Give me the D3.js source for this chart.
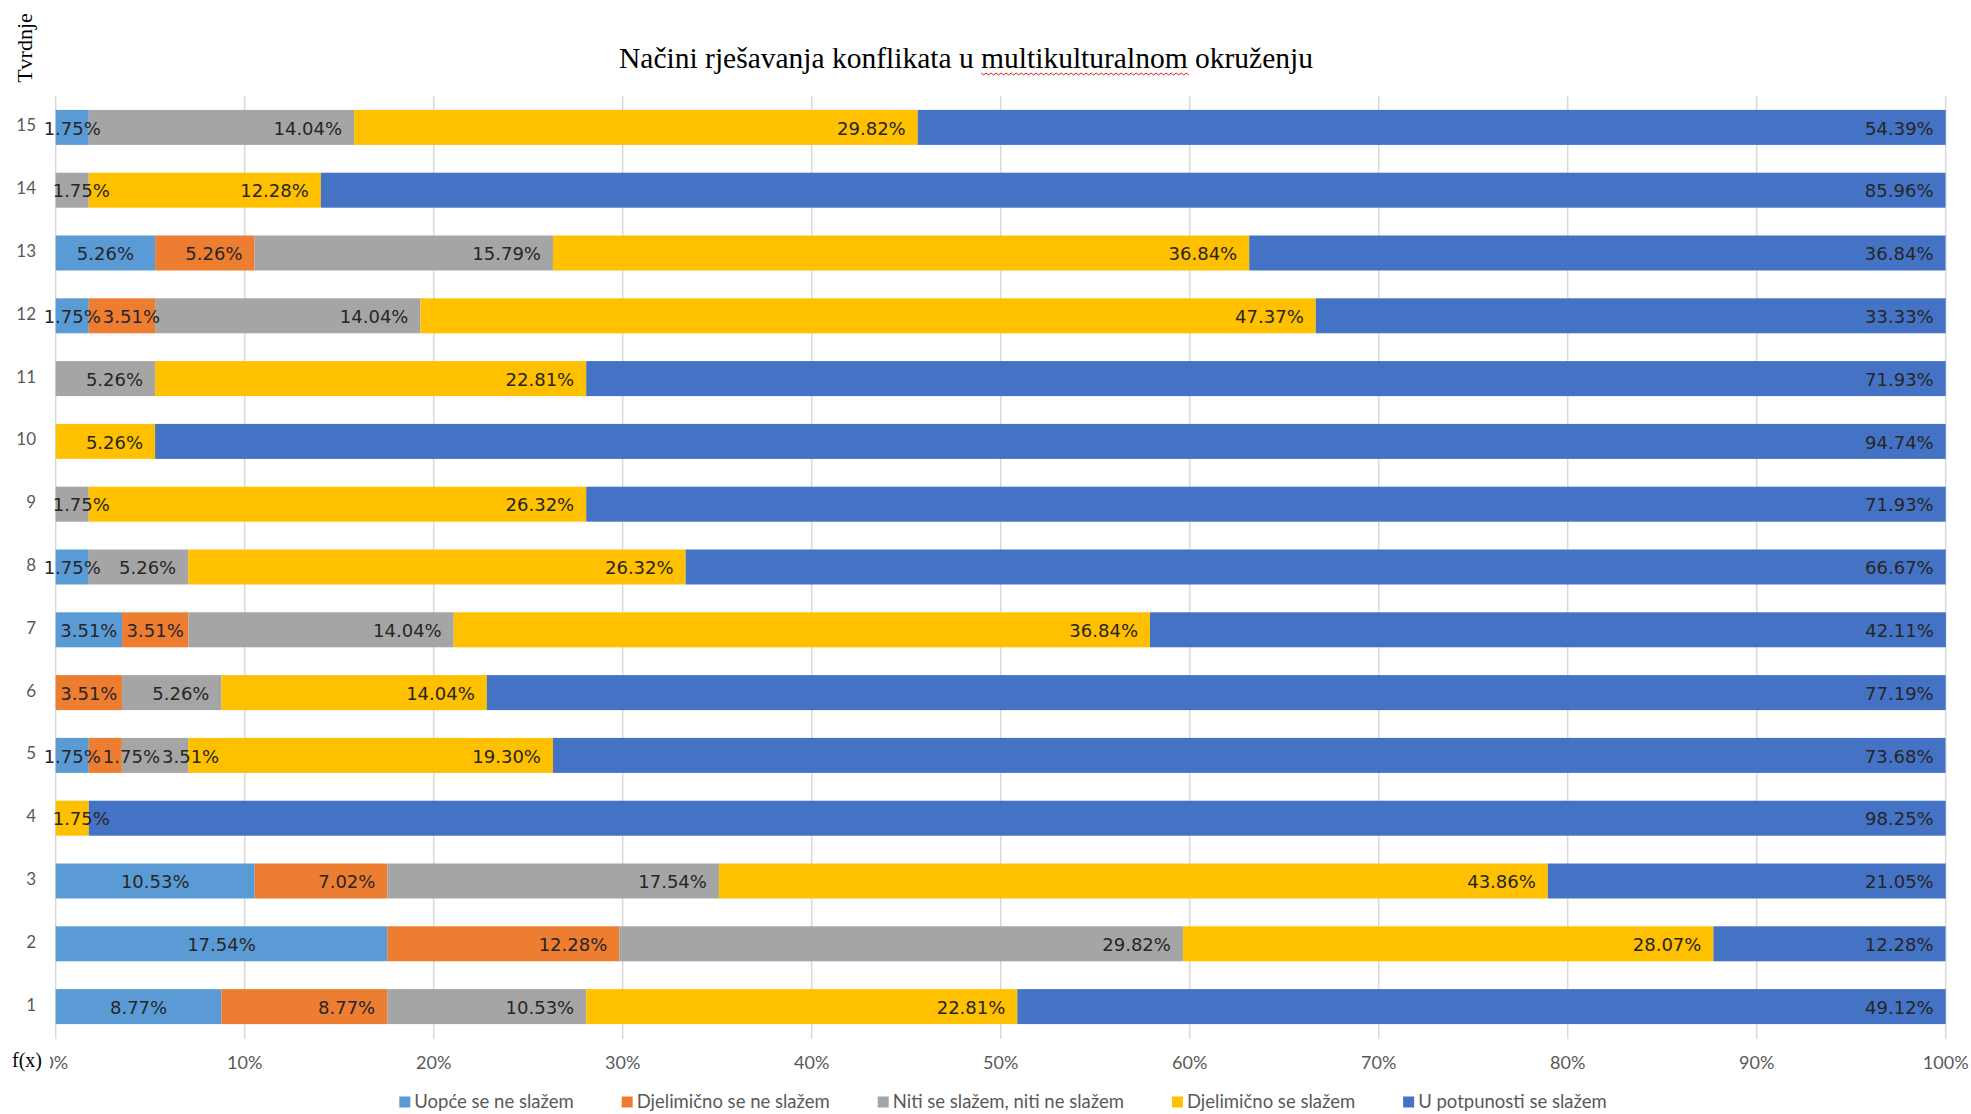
<!DOCTYPE html>
<html>
<head>
<meta charset="utf-8">
<script src="https://cdn.jsdelivr.net/npm/d3@7"></script>
<style>
  body { margin: 0; background: #fff; }
  svg { display: block; }
</style>
</head>
<body>
<script>
// statements, bottom row first
let tvrdnje = [1, 2, 3, 4, 5, 6, 7, 8, 9, 10, 11, 12, 13, 14, 15]

let serije = ["Uopće se ne slažem", "Djelimično se ne slažem", "Niti se slažem, niti ne slažem", "Djelimično se slažem", "U potpunosti se slažem"]
let boje = ["#5B9BD5", "#ED7D31", "#A5A5A5", "#FFC000", "#4472C4"]

let uopce       = [8.77, 17.54, 10.53, 0, 1.75, 0, 3.51, 1.75, 0, 0, 0, 1.75, 5.26, 0, 1.75]
let djelNeSlaze = [8.77, 12.28, 7.02, 0, 1.75, 3.51, 3.51, 0, 0, 0, 0, 3.51, 5.26, 0, 0]
let niti        = [10.53, 29.82, 17.54, 0, 3.51, 5.26, 14.04, 5.26, 1.75, 0, 5.26, 14.04, 15.79, 1.75, 14.04]
let djelSlaze   = [22.81, 28.07, 43.86, 1.75, 19.30, 14.04, 36.84, 26.32, 26.32, 5.26, 22.81, 47.37, 36.84, 12.28, 29.82]
let potpuno     = [49.12, 12.28, 21.05, 98.25, 73.68, 77.19, 42.11, 66.67, 71.93, 94.74, 71.93, 33.33, 36.84, 85.96, 54.39]

let xTicks = [0, 10, 20, 30, 40, 50, 60, 70, 80, 90, 100]

let w = 1971
let h = 1114

let svg = d3.select("body")
    .append("svg")
    .attr("width", w)
    .attr("height", h)

let vrijednosti = [uopce, djelNeSlaze, niti, djelSlaze, potpuno]

let rows = tvrdnje.map((t, i) => {
    let r = { t: t }
    serije.forEach((s, j) => r[s] = vrijednosti[j][i])
    return r
})

let stack = d3.stack().keys(serije)(rows)

let x = d3.scaleLinear()
    .domain([0, 100])
    .range([55.7, 1945.7])

let y = d3.scaleBand()
    .domain(tvrdnje.slice().reverse())
    .range([96, 1038])
    .paddingInner(0.443)
    .paddingOuter(0.2215)

// grid
svg.append("g")
    .selectAll("line")
    .data(xTicks)
    .enter()
    .append("line")
    .attr("x1", d => x(d))
    .attr("x2", d => x(d))
    .attr("y1", 96)
    .attr("y2", 1039)
    .attr("stroke", "#d9d9d9")
    .attr("stroke-width", 1.5)

// bars
let layer = svg.append("g")
    .selectAll("g")
    .data(stack)
    .enter()
    .append("g")
    .attr("fill", (d, i) => boje[i])

layer.selectAll("rect")
    .data(d => d)
    .enter()
    .append("rect")
    .attr("x", d => x(d[0]))
    .attr("width", d => x(d[1]) - x(d[0]))
    .attr("y", d => y(d.data.t))
    .attr("height", y.bandwidth())

// data labels: first series centred, the rest at inside end
let labels = svg.append("g")
    .attr("font-family", "DejaVu Sans")
    .attr("font-size", 18)
    .attr("fill", "#262626")

let fmt = v => v.toFixed(2) + "%"

tvrdnje.forEach((t, i) => {
    let prevRight = -Infinity
    stack.forEach((s, j) => {
        let d = s[i]
        let v = d[1] - d[0]
        if (v <= 0.001) return
        let txt = labels.append("text")
            .attr("y", y(t) + y.bandwidth() / 2)
            .attr("dy", "0.4em")
            .text(fmt(vrijednosti[j][i]))
        let tw = txt.node().getComputedTextLength()
        let x0 = x(d[0]), x1 = x(d[1])
        let left
        if (j === 0 || tw + 24 > x1 - x0) {
            left = (x0 + x1) / 2 - tw / 2
        } else {
            left = x1 - 12 - tw
        }
        if (j > 0) left = Math.max(left, x(0) - 3)
        left = Math.max(left, prevRight + 2)
        txt.attr("x", left)
        prevRight = left + tw
    })
})

// y labels
svg.append("g")
    .attr("font-family", "Lato")
    .attr("font-size", 17)
    .attr("fill", "#595959")
    .attr("text-anchor", "end")
    .selectAll("text")
    .data(tvrdnje)
    .enter()
    .append("text")
    .attr("x", 36)
    .attr("y", d => y(d) + y.bandwidth() / 2 - 2)
    .attr("dy", "0.35em")
    .text(d => d)

// x tick labels
svg.append("g")
    .attr("font-family", "Lato")
    .attr("font-size", 18)
    .attr("fill", "#595959")
    .attr("text-anchor", "middle")
    .selectAll("text")
    .data(xTicks)
    .enter()
    .append("text")
    .attr("x", d => x(d))
    .attr("y", 1063)
    .attr("dy", "0.35em")
    .text(d => d + "%")

// f(x) covering the 0
svg.append("rect")
    .attr("x", 0)
    .attr("y", 1045)
    .attr("width", 50)
    .attr("height", 35)
    .attr("fill", "#fff")

svg.append("text")
    .attr("x", 12)
    .attr("y", 1067)
    .attr("font-family", "Liberation Serif")
    .attr("font-size", 20)
    .attr("fill", "#000")
    .text("f(x)")

// Tvrdnje
svg.append("text")
    .attr("transform", "translate(32,48) rotate(-90)")
    .attr("text-anchor", "middle")
    .attr("font-family", "Liberation Serif")
    .attr("font-size", 22)
    .attr("fill", "#000")
    .text("Tvrdnje")

// title
let titleY = 68
let title = svg.append("text")
    .attr("x", 966)
    .attr("y", titleY)
    .attr("text-anchor", "middle")
    .attr("font-family", "Liberation Serif")
    .attr("font-size", 29.5)
    .attr("fill", "#000")
    .text("Načini rješavanja konflikata u multikulturalnom okruženju")

// red spell-check squiggle under "multikulturalnom"
let word = "multikulturalnom"
let start = title.text().indexOf(word)
let tn = title.node()
let sx = tn.getStartPositionOfChar(start).x
let ex = tn.getEndPositionOfChar(start + word.length - 1).x
let wy = titleY + 5
let wave = d3.path()
wave.moveTo(sx, wy)
for (let px = sx, k = 0; px < ex; px += 2.5, k++) {
    wave.lineTo(px + 2.5, wy + (k % 2 === 0 ? 2 : 0))
}
svg.append("path")
    .attr("d", wave.toString())
    .attr("fill", "none")
    .attr("stroke", "#e02020")
    .attr("stroke-width", 1)

// legend
let legend = svg.append("g")
    .attr("font-family", "Lato")
    .attr("font-size", 18.5)
    .attr("fill", "#595959")

let items = legend.selectAll("g")
    .data(serije)
    .enter()
    .append("g")

items.append("rect")
    .attr("width", 11)
    .attr("height", 11)
    .attr("y", -5.5)
    .attr("fill", (d, i) => boje[i])

items.append("text")
    .attr("x", 15)
    .attr("dy", "0.35em")
    .text(d => d)

let widths = []
items.each(function() { widths.push(15 + d3.select(this).select("text").node().getComputedTextLength()) })
let gap = 48
let total = d3.sum(widths) + gap * (widths.length - 1)
let lx = 1003 - total / 2
items.attr("transform", (d, i) => {
    let t = "translate(" + lx + ",1102)"
    lx += widths[i] + gap
    return t
})
</script>
</body>
</html>
